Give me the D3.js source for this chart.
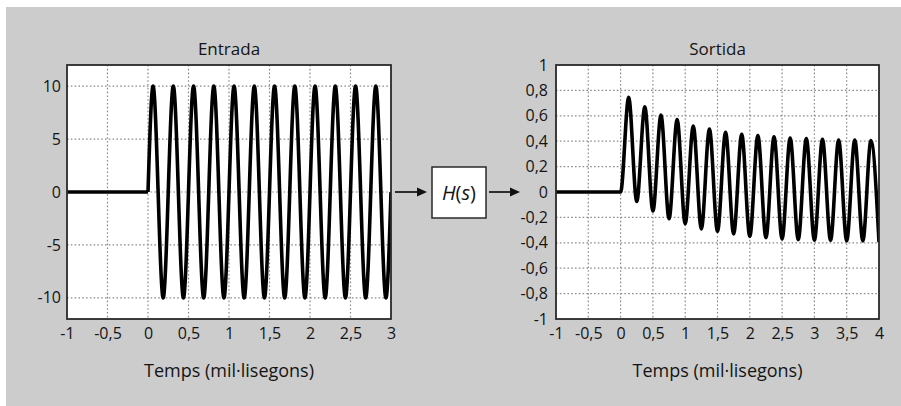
<!DOCTYPE html>
<html>
<head>
<meta charset="utf-8">
<script src="https://cdn.jsdelivr.net/npm/d3@7"></script>
<style>
  body { margin: 0; background: #fff; }
  text { font-family: 'Open Sans', sans-serif; fill: #141414; }
</style>
</head>
<body>
<script>
// Entrada: tram en repòs i extrems de la sinusoide (temps en ms)
const inputRestT = [-1, 0]
const inputRestY = [0, 0]
const inputEdgeT = [0, 3]
const inputEdgeY = [0, 0]
const inputPeakT = [0.0625, 0.3125, 0.5625, 0.8125, 1.0625, 1.3125, 1.5625, 1.8125, 2.0625, 2.3125, 2.5625, 2.8125]
const inputPeakY = [10, 10, 10, 10, 10, 10, 10, 10, 10, 10, 10, 10]
const inputTroughT = [0.1875, 0.4375, 0.6875, 0.9375, 1.1875, 1.4375, 1.6875, 1.9375, 2.1875, 2.4375, 2.6875, 2.9375]
const inputTroughY = [-10, -10, -10, -10, -10, -10, -10, -10, -10, -10, -10, -10]

// Sortida: resposta amortida
const outputRestT = [-1, 0]
const outputRestY = [0, 0]
const outputPeakT = [0.125, 0.375, 0.625, 0.875, 1.125, 1.375, 1.625, 1.875, 2.125, 2.375, 2.625, 2.875, 3.125, 3.375, 3.625, 3.875]
const outputPeakY = [0.745, 0.67, 0.605, 0.57, 0.52, 0.495, 0.47, 0.455, 0.445, 0.435, 0.425, 0.42, 0.415, 0.41, 0.41, 0.405]
const outputTroughT = [0.25, 0.5, 0.75, 1, 1.25, 1.5, 1.75, 2, 2.25, 2.5, 2.75, 3, 3.25, 3.5, 3.75, 4]
const outputTroughY = [-0.075, -0.15, -0.21, -0.25, -0.29, -0.31, -0.33, -0.35, -0.36, -0.37, -0.375, -0.38, -0.38, -0.385, -0.385, -0.395]

// eixos
const inputXTicks = [-1, -0.5, 0, 0.5, 1, 1.5, 2, 2.5, 3]
const inputYTicks = [-10, -5, 0, 5, 10]
const outputXTicks = [-1, -0.5, 0, 0.5, 1, 1.5, 2, 2.5, 3, 3.5, 4]
const outputYTicks = [-1, -0.8, -0.6, -0.4, -0.2, 0, 0.2, 0.4, 0.6, 0.8, 1]

const W = 901
const H = 406

const locale = d3.formatLocale({
  decimal: ',',
  thousands: '.',
  grouping: [3],
  currency: ['', ' €'],
  minus: '-'
})
const fmt = locale.format('~g')

const toPoints = (ts, ys) => ts.map((t, i) => ({ x: t, y: ys[i] }))

const joinWave = (peaksT, peaksY, troughsT, troughsY, extra) =>
  toPoints(peaksT, peaksY)
    .concat(toPoints(troughsT, troughsY))
    .concat(extra)
    .sort((a, b) => a.x - b.x)

const svg = d3.select('body')
  .append('svg')
  .attr('width', W)
  .attr('height', H)

svg.append('rect')
  .attr('x', 6)
  .attr('y', 7)
  .attr('width', W - 6)
  .attr('height', H - 7)
  .attr('fill', '#cccccc')

function drawPanel (p) {
  const x = d3.scaleLinear().domain(p.xDomain).range([p.left, p.right])
  const y = d3.scaleLinear().domain(p.yDomain).range([p.bottom, p.top])
  const g = svg.append('g')

  g.append('rect')
    .attr('x', p.left)
    .attr('y', p.top)
    .attr('width', p.right - p.left)
    .attr('height', p.bottom - p.top)
    .attr('fill', '#fff')

  // graella puntejada
  g.append('g')
    .selectAll('line')
    .data(p.xTicks.filter(d => d > p.xDomain[0] && d < p.xDomain[1]))
    .join('line')
    .attr('x1', d => x(d))
    .attr('x2', d => x(d))
    .attr('y1', p.top)
    .attr('y2', p.bottom)
    .attr('stroke', '#8a8a8a')
    .attr('stroke-width', 1.2)
    .attr('stroke-dasharray', '1.6,2.2')

  g.append('g')
    .selectAll('line')
    .data(p.yTicks.filter(d => d > p.yDomain[0] && d < p.yDomain[1]))
    .join('line')
    .attr('x1', p.left)
    .attr('x2', p.right)
    .attr('y1', d => y(d))
    .attr('y2', d => y(d))
    .attr('stroke', '#8a8a8a')
    .attr('stroke-width', 1.2)
    .attr('stroke-dasharray', '1.6,2.2')

  const line = d3.line()
    .curve(d3.curveMonotoneX)
    .x(d => x(d.x))
    .y(d => y(d.y))

  g.append('defs')
    .append('clipPath')
    .attr('id', p.id)
    .append('rect')
    .attr('x', p.left)
    .attr('y', p.top)
    .attr('width', p.right - p.left)
    .attr('height', p.bottom - p.top)

  g.append('g')
    .attr('clip-path', `url(#${p.id})`)
    .selectAll('path')
    .data(p.series)
    .join('path')
    .attr('d', line)
    .attr('fill', 'none')
    .attr('stroke', '#000')
    .attr('stroke-width', 3.6)
    .attr('stroke-linejoin', 'round')

  g.append('rect')
    .attr('x', p.left)
    .attr('y', p.top)
    .attr('width', p.right - p.left)
    .attr('height', p.bottom - p.top)
    .attr('fill', 'none')
    .attr('stroke', '#2a2a2a')
    .attr('stroke-width', 1.8)

  const xAxis = g.append('g')
    .attr('transform', `translate(0, ${p.bottom})`)
    .call(d3.axisBottom(x).tickValues(p.xTicks).tickFormat(fmt).tickSize(0).tickPadding(9))
  const yAxis = g.append('g')
    .attr('transform', `translate(${p.left}, 0)`)
    .call(d3.axisLeft(y).tickValues(p.yTicks).tickFormat(fmt).tickSize(0).tickPadding(p.yPad))

  ;[xAxis, yAxis].forEach(a => {
    a.select('.domain').remove()
    a.selectAll('text')
      .attr('fill', '#141414')
      .style('font-family', "'Open Sans', sans-serif")
      .style('font-size', '16px')
  })

  g.append('text')
    .attr('x', (p.left + p.right) / 2)
    .attr('y', 55)
    .attr('text-anchor', 'middle')
    .style('font-size', '17px')
    .text(p.title)

  g.append('text')
    .attr('x', (p.left + p.right) / 2)
    .attr('y', 377)
    .attr('text-anchor', 'middle')
    .style('font-size', '18px')
    .text('Temps (mil·lisegons)')
}

drawPanel({
  id: 'clip-in',
  title: 'Entrada',
  left: 67,
  right: 391,
  top: 65,
  bottom: 319,
  xDomain: [-1, 3],
  yDomain: [-12, 12],
  xTicks: inputXTicks,
  yTicks: inputYTicks,
  yPad: 6,
  series: [
    toPoints(inputRestT, inputRestY),
    joinWave(inputPeakT, inputPeakY, inputTroughT, inputTroughY, toPoints(inputEdgeT, inputEdgeY))
  ]
})

drawPanel({
  id: 'clip-out',
  title: 'Sortida',
  left: 556,
  right: 879,
  top: 65,
  bottom: 319,
  xDomain: [-1, 4],
  yDomain: [-1, 1],
  xTicks: outputXTicks,
  yTicks: outputYTicks,
  yPad: 8,
  series: [
    joinWave(outputPeakT, outputPeakY, outputTroughT, outputTroughY, toPoints(outputRestT, outputRestY))
  ]
})

// bloc H(s) amb fletxes
const midY = 192
const arrow = (x1, x2) => {
  svg.append('line')
    .attr('x1', x1)
    .attr('x2', x2 - 8)
    .attr('y1', midY)
    .attr('y2', midY)
    .attr('stroke', '#111')
    .attr('stroke-width', 1.7)
  svg.append('path')
    .attr('d', `M${x2},${midY} L${x2 - 10},${midY - 4.5} L${x2 - 10},${midY + 4.5} Z`)
    .attr('fill', '#111')
}
arrow(395, 427)
arrow(489, 520)

svg.append('rect')
  .attr('x', 432)
  .attr('y', 167)
  .attr('width', 54)
  .attr('height', 51)
  .attr('fill', '#fff')
  .attr('stroke', '#2a2a2a')
  .attr('stroke-width', 1.5)

const hs = svg.append('text')
  .attr('x', 459)
  .attr('y', 199.5)
  .attr('text-anchor', 'middle')
  .style('font-size', '20px')
hs.append('tspan').style('font-style', 'italic').text('H')
hs.append('tspan').text('(')
hs.append('tspan').style('font-style', 'italic').text('s')
hs.append('tspan').text(')')
</script>
</body>
</html>
